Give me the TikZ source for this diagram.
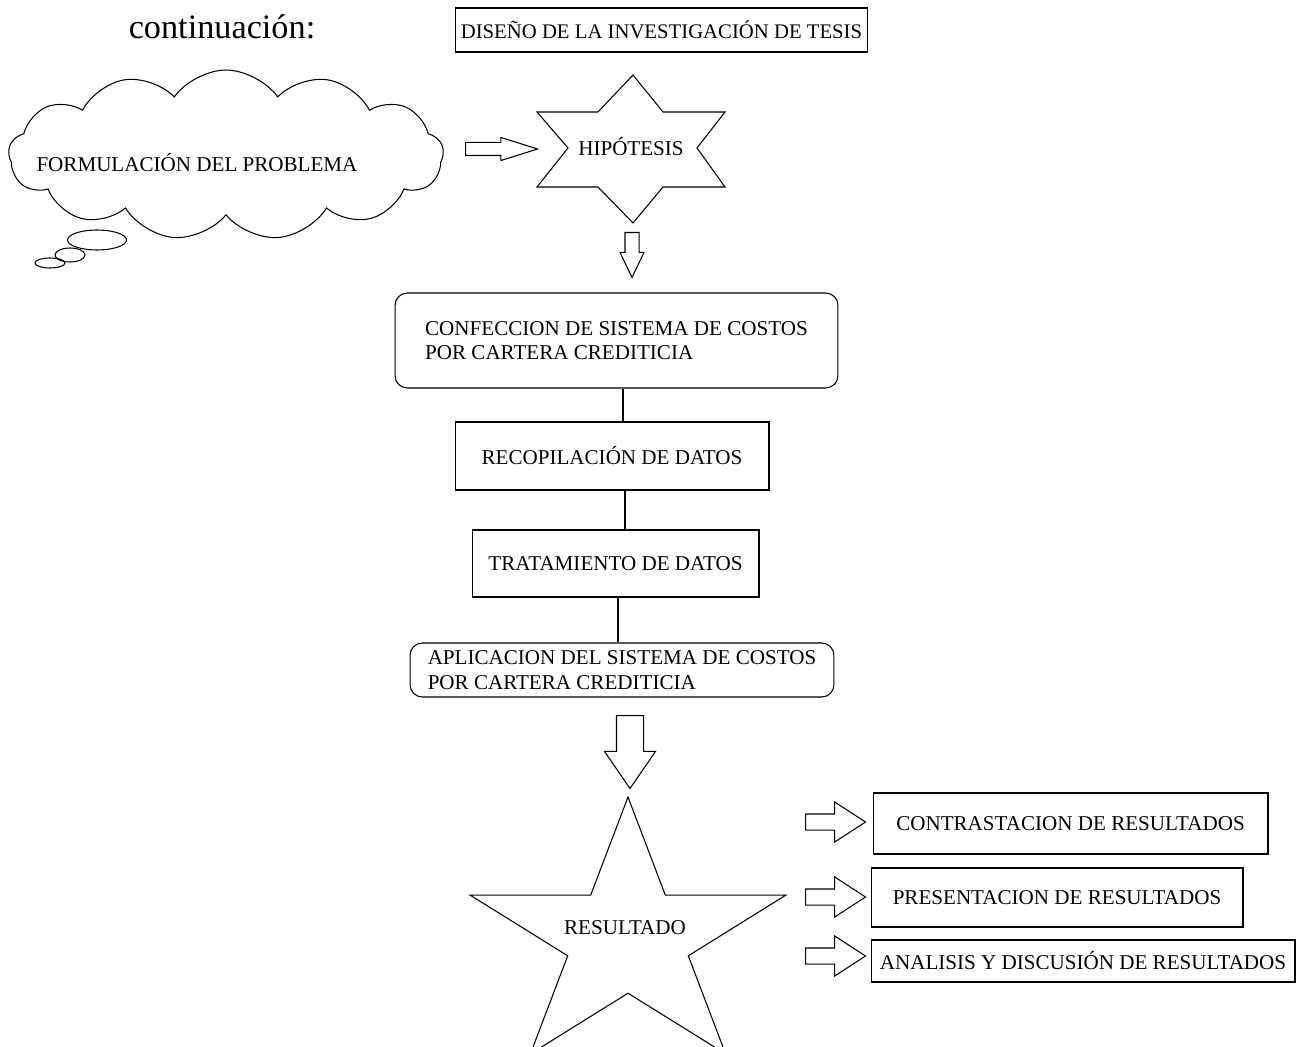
\documentclass[tikz,border=0pt]{standalone}
\usepackage{fontspec}
\setmainfont{Liberation Serif}
\usetikzlibrary{shapes.symbols,shapes.arrows}
\tikzset{
  box/.style={draw, rectangle, inner sep=0pt},
  rbox/.style={draw, rectangle, rounded corners=7pt, align=left, inner sep=0pt},
  barrow/.style={draw, single arrow, anchor=tail, inner xsep=0pt, minimum size=0pt}
}
\begin{document}
\begin{tikzpicture}[x=0.02cm, y=-0.02cm, line width=0.6pt, font=\fontsize{12}{14}\selectfont]
  \useasboundingbox (0,0) rectangle (1301,1047);
  \clip (0,0) rectangle (1301,1047);
  %=========== top: title and problem ===========================
  \node (cont) at (222,27) {\fontsize{19.5}{22}\selectfont continuación:};
  \node[box, minimum width=8.26cm, minimum height=0.88cm] (title) at (661.5,30) {\fontsize{11.8}{14}\selectfont DISEÑO DE LA INVESTIGACIÓN DE TESIS};
  \node[draw, cloud, cloud puffs=13, cloud puff arc=110, aspect=2.6, minimum width=8.7cm, minimum height=3.4cm] (cloudp) at (226,155) {};
  \node (formul) at (197,163) {FORMULACIÓN DEL PROBLEMA};
  \draw (97,240) ellipse (29.5 and 10);
  \draw (70,255) ellipse (15 and 7);
  \draw (50,263) ellipse (15 and 5);
  \node[barrow, inner ysep=0.12cm, minimum height=1.44cm, single arrow head extend=0.1cm, single arrow tip angle=35] (arr1) at (465,149) {};
  %=========== hexagram ===========================
  \draw (633,75) -- (663,112) -- (725,112) -- (697,148) -- (725,187) -- (663,187) -- (633,223)
        -- (598,187) -- (537,187) -- (568,148) -- (537,112) -- (598,112) -- cycle;
  \node (hip) at (631,147) {HIPÓTESIS};
  \node[barrow, rotate=-90, inner ysep=0.13cm, minimum height=0.9cm, single arrow head extend=0.1cm, single arrow tip angle=51] (arr2) at (632,232) {};
  %=========== middle column, from top to bottom ===========================
  \node[rbox, minimum width=8.86cm, minimum height=1.9cm] (conf) at (616.5,340.5)
    {CONFECCION DE SISTEMA DE COSTOS\\POR CARTERA CREDITICIA};
  \node[box, minimum width=6.28cm, minimum height=1.36cm] (recop) at (612,456) {RECOPILACIÓN DE DATOS};
  \node[box, minimum width=5.74cm, minimum height=1.34cm] (trat) at (615.5,563.5) {TRATAMIENTO DE DATOS};
  \node[rbox, minimum width=8.48cm, minimum height=1.08cm] (aplic) at (622,670)
    {APLICACION DEL SISTEMA DE COSTOS\\POR CARTERA CREDITICIA};
  \draw ([xshift=0.22cm]recop.north) -- ([xshift=0.22cm]recop.north |- conf.south);
  \draw ([xshift=0.26cm]recop.south) -- ([xshift=0.26cm]recop.south |- trat.north);
  \draw ([xshift=0.05cm]trat.south) -- ([xshift=0.05cm]trat.south |- aplic.north);
  \node[barrow, rotate=-90, inner ysep=0.26cm, minimum height=1.46cm, single arrow head extend=0.24cm, single arrow tip angle=69] (arr3) at (630,715) {};
  %=========== star and results ===========================
  \draw (628,797) -- (590.7,895.1) -- (470.1,895.1) -- (567.7,955.8) -- (530.4,1053.9) -- (628,993.2)
        -- (725.6,1053.9) -- (688.3,955.8) -- (785.9,895.1) -- (665.3,895.1) -- cycle;
  \node (res) at (625,928) {RESULTADO};
  \node[box, minimum width=7.9cm, minimum height=1.22cm] (contr) at (1070.5,823.5) {CONTRASTACION DE RESULTADOS};
  \node[box, minimum width=7.44cm, minimum height=1.18cm] (pres) at (1057,897.5) {PRESENTACION DE RESULTADOS};
  \node[box, minimum width=8.48cm, minimum height=0.84cm] (anal) at (1083,961) {ANALISIS Y DISCUSIÓN DE RESULTADOS};
  \foreach \nm/\yy in {ra/822, rb/897, rc/956}
    \node[barrow, inner ysep=0.15cm, minimum height=1.2cm, single arrow head extend=0.24cm, single arrow tip angle=66] (\nm) at (805,\yy) {};
\end{tikzpicture}
\end{document}
